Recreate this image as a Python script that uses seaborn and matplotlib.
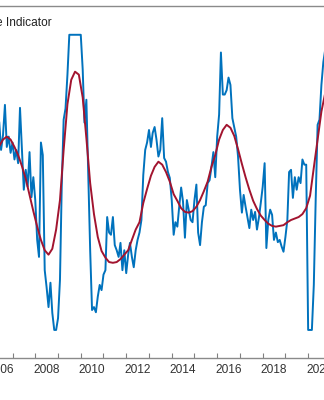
import numpy as np
import pandas as pd
import matplotlib
matplotlib.use("Agg")
import matplotlib.pyplot as plt
import seaborn as sns

# ---- data ----
title_text = "Business Confidence Indicator"

indicator_start = "2006-06-01"   # monthly
indicator = [
    0.82, 0.44, 0.64, 1.05, 0.48, 0.62, 0.40, 0.54, 0.31, 0.44, 0.26, 1.01, 0.44,
    -0.10, 0.17, -0.06, 0.41, -0.20, 0.07, -0.24, -0.78, -1.01, 0.54, 0.37,
    -1.19, -1.42, -1.69, -1.36, -1.77, -2.00, -2.00, -1.84, -1.32, -0.06, 0.85,
    1.00, 1.46, 2.00, 2.00, 2.00, 2.00, 2.00, 2.00, 2.00, 1.53, 0.81, 1.12, 0.10,
    -0.92, -1.73, -1.69, -1.76, -1.55, -1.39, -1.46, -1.25, -1.19, -0.47, -0.68,
    -0.71, -0.47, -0.85, -0.92, -1.01, -0.82, -1.19, -0.92, -1.23, -0.98, -0.82,
    -1.01, -1.15, -0.92, -0.78, -0.68, -0.51, 0.10, 0.44, 0.54, 0.71, 0.48, 0.67,
    0.75, 0.58, 0.35, 0.44, 0.87, 0.33, 0.28, 0.14, 0.06, -0.24, -0.71, -0.54,
    -0.60, -0.33, -0.07, -0.26, -0.75, -0.24, -0.37, -0.51, -0.54, -0.24, -0.03,
    -0.68, -0.85, -0.54, -0.33, -0.31, -0.01, 0.03, 0.21, 0.41, 0.07, 0.62, 0.92,
    1.76, 1.19, 1.19, 1.25, 1.42, 1.32, 0.87, 0.75, 0.62, 0.35, -0.10, -0.41,
    -0.17, -0.33, -0.47, -0.62, -0.37, -0.51, -0.40, -0.64, -0.48, -0.28, -0.06,
    0.26, -0.89, -0.51, -0.37, -0.44, -0.78, -0.68, -0.81, -0.78, -0.87, -0.94,
    -0.74, -0.51, 0.14, 0.17, -0.21, 0.07, -0.10, 0.07, -0.01, 0.31, 0.24, 0.24,
    -2.00, -2.00, -2.00, -1.39, -0.24, 0.78, 0.85, 1.32, 1.63, 1.80,
]

trend_start = "2006-06-01"   # every two months
trend = [
    0.49, 0.58, 0.62, 0.58, 0.48, 0.37, 0.22, 0.05, -0.17, -0.39, -0.60, -0.78,
    -0.92, -0.98, -0.90, -0.64, -0.24, 0.44, 1.06, 1.39, 1.50, 1.46, 1.15, 0.60,
    -0.01, -0.43, -0.74, -0.93, -1.02, -1.08, -1.09, -1.08, -1.04, -0.98, -0.92,
    -0.78, -0.64, -0.54, -0.28, -0.09, 0.09, 0.21, 0.28, 0.24, 0.14, 0.01, -0.16,
    -0.25, -0.35, -0.40, -0.41, -0.39, -0.33, -0.24, -0.12, 0.01, 0.21, 0.37,
    0.58, 0.71, 0.78, 0.74, 0.63, 0.45, 0.25, 0.07, -0.10, -0.25, -0.36, -0.45,
    -0.51, -0.56, -0.59, -0.60, -0.59, -0.58, -0.54, -0.51, -0.49, -0.47, -0.43,
    -0.35, -0.18, 0.20, 0.58, 0.96, 1.21,
]

label_years = list(range(2006, 2022, 2))
tick_years = list(range(2005, 2023))

# ---- frames ----
df_ind = pd.DataFrame({
    "date": pd.date_range(indicator_start, periods=len(indicator), freq="MS"),
    "value": indicator,
})
df_tr = pd.DataFrame({
    "date": pd.date_range(trend_start, periods=len(trend), freq="2MS"),
    "value": trend,
})

sns.set_style("white")
plt.rcParams["font.family"] = ["Liberation Sans", "DejaVu Sans"]

W, H = 324, 400
fig = plt.figure(figsize=(W / 100, H / 100), dpi=100)

# axes extends beyond the picture on both sides (cropped view)
x0_year, x1_year = 2005.0, 2022.0
px_2008, px_per_year = 35.3, 22.74
left_px = px_2008 + (x0_year - 2008) * px_per_year
right_px = px_2008 + (x1_year - 2008) * px_per_year
top_px, bottom_px = 6, 358
ax = fig.add_axes([left_px / W, (H - bottom_px) / H,
                   (right_px - left_px) / W, (bottom_px - top_px) / H])

sns.lineplot(data=df_ind, x="date", y="value", ax=ax, color="#0072BD",
             linewidth=1.4, zorder=2)
sns.lineplot(data=df_tr, x="date", y="value", ax=ax, color="#A2142F",
             linewidth=1.4, zorder=3)

ax.set_xticks([pd.Timestamp(f"{y}-01-01") for y in tick_years])
ax.set_xticklabels([""] * len(tick_years))
ax.set_xticks([pd.Timestamp(f"{y}-07-01") for y in label_years], minor=True)
ax.set_xticklabels([str(y) for y in label_years], minor=True)
ax.tick_params(axis="x", which="major", direction="in", length=3.6, width=0.8,
               color="#808080", bottom=True, top=False)
ax.tick_params(axis="x", which="minor", length=0, pad=4, labelsize=8.6,
               labelcolor="#333333")
ax.set_yticks([])
ax.set_xlabel("")
ax.set_ylabel("")

# limits set after ticks so the ticks cannot widen the view
ax.set_xlim(pd.Timestamp(f"{int(x0_year)}-01-01"), pd.Timestamp(f"{int(x1_year)}-01-01"))
ax.set_ylim(-2.38, 2.39)

for side in ["top", "bottom", "left", "right"]:
    ax.spines[side].set_visible(True)
    ax.spines[side].set_color("#8a8a8a")
    ax.spines[side].set_linewidth(1.0)

fig.text(52 / W, 1 - 26 / H, title_text, ha="right", va="baseline",
         fontsize=8.6, color="#222222")

fig.savefig("out.png", dpi=100)
